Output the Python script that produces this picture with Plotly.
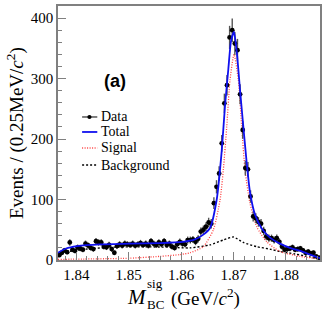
import numpy as np
import plotly.graph_objects as go

# ---------------- data ----------------
bin_start = 1.83675
bin_step = 0.0005
counts = [8, 12, 16, 13, 29, 17, 15, 21, 19, 17,
          27, 24, 20, 18, 31, 29, 29, 22, 21, 25,
          18, 12, 23, 26, 24, 27, 26, 25, 27, 24,
          26, 28, 25, 27, 24, 31, 27, 25, 29, 26,
          31, 25, 27, 22, 20, 26, 30, 27, 26, 33,
          33, 34, 30, 35, 47, 50, 55, 62, 60, 94,
          121, 143, 193, 259, 289, 368, 380, 358, 347, 274,
          215, 152, 150, 105, 72, 69, 63, 60, 48, 39,
          36, 36, 33, 36, 30, 22, 17, 18, 19, 21,
          17, 18, 19, 16, 12, 14, 11, 12, 6, 4]
mass = [round(bin_start + i * bin_step, 5) for i in range(len(counts))]
errors = list(np.sqrt(np.array(counts, dtype=float)))

total_x = [1.8365, 1.83803, 1.84013, 1.84452, 1.85024, 1.85597, 1.86035, 1.86264,
           1.86423, 1.86551, 1.86679, 1.86774, 1.86837, 1.86900, 1.86952, 1.87009,
           1.87066, 1.87124, 1.87187, 1.87252, 1.87314, 1.87410, 1.87538, 1.87696,
           1.87887, 1.88078, 1.88269, 1.88460, 1.8865]
total_y = [12, 19, 23, 26, 27, 28, 30, 34,
           42, 53, 100, 180, 255, 315, 362, 377,
           340, 281, 220, 160, 112, 75, 52, 37,
           27, 20, 15, 9, 3]

signal_x = [1.8365, 1.84452, 1.85024, 1.85597, 1.85979, 1.86170, 1.86424, 1.86615,
            1.86742, 1.86805, 1.86870, 1.86933, 1.87009, 1.87091, 1.87156, 1.87219,
            1.87314, 1.87442, 1.87633, 1.87887, 1.88269, 1.8865]
signal_y = [1, 2, 3, 6, 9, 12, 22, 50,
            99, 149, 220, 298, 340, 298, 220, 149,
            94, 55, 30, 14, 6, 2]

bkg_x = [1.8365, 1.84070, 1.84643, 1.85215, 1.85788, 1.86170, 1.86551, 1.86805,
         1.86996, 1.87187, 1.87442, 1.87696, 1.87887, 1.88173, 1.88460, 1.8865]
bkg_y = [11, 17, 21, 22, 21, 20, 25, 33,
         38, 29, 22, 18, 14, 10, 5, 1]

x_ticks = [1.84, 1.85, 1.86, 1.87, 1.88]
y_ticks = [0, 100, 200, 300, 400]
legend_labels = ["Data", "Total", "Signal", "Background"]

# ---------------- figure ----------------
serif = "Liberation Serif"
red = "#ff4040"
fig = go.Figure()

fig.add_trace(go.Scatter(x=bkg_x, y=bkg_y, mode="lines", name="Background",
                         line=dict(color="black", width=1.4, dash="2px,2px", shape="spline", smoothing=0.6)))
fig.add_trace(go.Scatter(x=signal_x, y=signal_y, mode="lines", name="Signal",
                         line=dict(color=red, width=1.3, dash="1px,1.5px", shape="spline", smoothing=0.6)))
fig.add_trace(go.Scatter(x=mass, y=counts, mode="markers", name="Data",
                         marker=dict(color="black", size=4.8, symbol="circle"),
                         error_y=dict(type="data", array=errors, color="#555555", thickness=1.4, width=0)))
fig.add_trace(go.Scatter(x=total_x, y=total_y, mode="lines", name="Total",
                         line=dict(color="#1010ee", width=1.8, shape="spline", smoothing=0.6)))

axis_common = dict(showgrid=False, zeroline=False, showline=True, linecolor="#808080",
                   linewidth=1.5, mirror=True, ticks="inside", tickcolor="#808080",
                   ticklen=8, tickwidth=1.2, automargin=False,
                   tickfont=dict(family=serif, size=15, color="black"))

fig.update_xaxes(range=[1.8365, 1.8865], tickvals=x_ticks,
                 ticktext=[f"{v:.2f}" for v in x_ticks],
                 minor=dict(dtick=0.002, tick0=1.84, ticks="inside", ticklen=4,
                            tickcolor="#808080", tickwidth=1),
                 **axis_common)
fig.update_yaxes(range=[0, 420], tickvals=y_ticks,
                 ticktext=[str(v) for v in y_ticks],
                 minor=dict(dtick=20, tick0=0, ticks="inside", ticklen=4,
                            tickcolor="#808080", tickwidth=1),
                 **axis_common)

annotations = [
    dict(text="<b>(a)</b>", x=0.218, y=0.705, xref="paper", yref="paper", showarrow=False,
         xanchor="center", yanchor="middle",
         font=dict(family="Liberation Sans", size=18, color="black")),
    dict(text="Events / (0.25MeV/<i>c</i><sup>2</sup>)", textangle=-90,
         x=-0.164, y=0.5, xref="paper", yref="paper", showarrow=False,
         xanchor="center", yanchor="middle",
         font=dict(family=serif, size=19, color="black")),
    dict(text="<i>M</i>", x=0.30, y=-0.146, xref="paper", yref="paper", showarrow=False,
         xanchor="center", yanchor="middle", font=dict(family=serif, size=21, color="black")),
    dict(text="sig", x=0.332, y=-0.094, xref="paper", yref="paper", showarrow=False,
         xanchor="left", yanchor="middle", font=dict(family=serif, size=13, color="black")),
    dict(text="BC", x=0.332, y=-0.177, xref="paper", yref="paper", showarrow=False,
         xanchor="left", yanchor="middle", font=dict(family=serif, size=13, color="black")),
    dict(text="(GeV/<i>c</i><sup>2</sup>)", x=0.425, y=-0.146, xref="paper", yref="paper",
         showarrow=False, xanchor="left", yanchor="middle",
         font=dict(family=serif, size=19, color="black")),
]

# hand-drawn legend (ROOT style, short symbols)
leg_y = [0.563, 0.504, 0.441, 0.374]
leg_styles = [dict(color="black", width=1, dash="solid"),
              dict(color="#1010ee", width=1.8, dash="solid"),
              dict(color=red, width=1.3, dash="1px,1.5px"),
              dict(color="black", width=1.4, dash="2px,2px")]
shapes = []
for lbl, yy, st in zip(legend_labels, leg_y, leg_styles):
    annotations.append(dict(text=lbl, x=0.158, y=yy, xref="paper", yref="paper",
                            showarrow=False, xanchor="left", yanchor="middle",
                            font=dict(family=serif, size=14, color="black")))
    shapes.append(dict(type="line", xref="paper", yref="paper", x0=0.092, x1=0.15,
                       y0=yy, y1=yy, line=st))
# data legend marker dot
shapes.append(dict(type="circle", xref="paper", yref="paper", x0=0.112, x1=0.128,
                   y0=leg_y[0] - 0.008, y1=leg_y[0] + 0.008,
                   fillcolor="black", line=dict(color="black", width=0)))

fig.update_layout(
    width=327, height=318,
    margin=dict(l=58, r=7, t=6, b=58),
    paper_bgcolor="white", plot_bgcolor="white",
    annotations=annotations, shapes=shapes,
    showlegend=False,
)

fig.write_html("out.html", config={"displayModeBar": False},
               post_script="document.body.style.margin='0px';document.body.style.overflow='hidden';")
